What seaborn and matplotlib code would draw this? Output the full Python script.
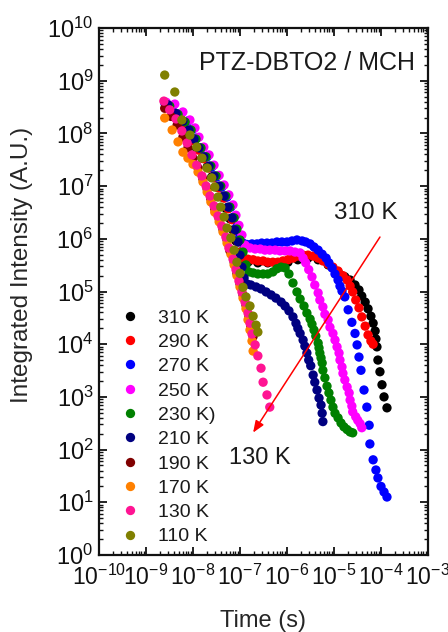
import numpy as np
import pandas as pd
import matplotlib
matplotlib.use("Agg")
import matplotlib.pyplot as plt
import seaborn as sns
from matplotlib.ticker import LogLocator, NullFormatter, LogFormatterMathtext

# ---------------- data ----------------
labels = ['310 K', '290 K', '270 K', '250 K', '230 K)', '210 K', '190 K', '170 K', '130 K', '110 K']
colors = ['#000000', '#ff0000', '#0000ff', '#ff00ff', '#008000', '#000080',
          '#800000', '#ff8000', '#ff1493', '#808000']

t_310 = [2.7e-9, 3.9e-9, 5.6e-9, 7.5e-9, 9.5e-9, 1.2e-8, 1.55e-8, 2.0e-8, 2.5e-8, 3.2e-8, 4.1e-8,
         5.0e-8, 6.1e-8, 7.1e-8, 8.2e-8, 1.0e-7, 1.22e-7, 1.48e-7, 2.4e-7, 3.9e-7, 6.4e-7, 1.05e-6,
         1.7e-6, 2.8e-6, 4.6e-6, 7.5e-6, 1.22e-5, 1.7e-5, 2.2e-5, 2.8e-5, 3.4e-5, 3.9e-5, 4.6e-5,
         5.3e-5, 6.1e-5, 6.8e-5, 7.5e-5, 7.8e-5, 8.2e-5, 8.6e-5, 9.5e-5, 1.05e-4, 1.16e-4, 1.34e-4]
I_310 = [3.3e8, 2.3e8, 1.65e8, 1.11e8, 7.5e7, 5.1e7, 3.4e7, 2.3e7, 1.49e7, 9.6e6, 6.2e6,
         3.8e6, 2.4e6, 1.47e6, 9.1e5, 5.6e5, 4.0e5, 3.6e5, 3.5e5, 3.5e5, 3.5e5, 3.6e5,
         4.0e5, 4.3e5, 4.0e5, 3.2e5, 2.35e5, 1.9e5, 1.65e5, 1.33e5, 1.07e5, 8.2e4, 6.3e4,
         4.7e4, 3.4e4, 2.5e4, 1.78e4, 1.26e4, 8.9e3, 5.0e3, 3.0e3, 1.7e3, 1.0e3, 6.2e2]

t_290 = [2.9e-9, 4.35e-9, 6.1e-9, 8.2e-9, 1.05e-8, 1.34e-8, 1.7e-8, 2.2e-8, 2.8e-8, 3.6e-8, 4.6e-8,
         5.6e-8, 6.8e-8, 7.8e-8, 9.1e-8, 1.05e-7, 1.22e-7, 1.48e-7, 1.9e-7, 2.4e-7, 3.1e-7, 3.9e-7,
         5.0e-7, 6.4e-7, 8.2e-7, 1.05e-6, 1.34e-6, 1.7e-6, 2.2e-6, 2.8e-6, 3.6e-6, 4.6e-6, 5.8e-6,
         7.5e-6, 9.5e-6, 1.22e-5, 1.55e-5, 1.9e-5, 2.2e-5, 2.5e-5, 2.9e-5, 3.4e-5, 3.9e-5, 4.6e-5,
         5.3e-5, 6.1e-5, 6.8e-5]
I_290 = [3.2e8, 2.2e8, 1.57e8, 1.06e8, 7.2e7, 4.8e7, 3.3e7, 2.2e7, 1.43e7, 9.2e6, 5.9e6,
         3.7e6, 2.3e6, 1.41e6, 8.7e5, 5.6e5, 4.3e5, 4.1e5, 4.0e5, 3.8e5, 3.8e5, 3.6e5,
         3.6e5, 3.6e5, 3.8e5, 4.0e5, 4.3e5, 4.7e5, 4.9e5, 4.9e5, 4.7e5, 4.3e5, 3.8e5,
         3.3e5, 2.9e5, 2.45e5, 2.0e5, 1.65e5, 1.27e5, 9.8e4, 6.9e4, 4.9e4, 3.3e4, 2.2e4,
         1.5e4, 1.15e4, 1.0e4]

t_270 = [2.5e-9, 3.75e-9, 5.6e-9, 7.8e-9, 1.0e-8, 1.2e-8, 1.55e-8, 2.0e-8, 2.5e-8, 3.2e-8, 4.1e-8,
         5.3e-8, 6.4e-8, 7.5e-8, 8.6e-8, 1.0e-7, 1.16e-7, 1.41e-7, 1.8e-7, 2.3e-7, 2.9e-7, 3.75e-7,
         4.8e-7, 6.1e-7, 7.8e-7, 1.0e-6, 1.28e-6, 1.63e-6, 2.1e-6, 2.5e-6, 3.1e-6, 3.75e-6, 4.6e-6,
         5.6e-6, 6.8e-6, 7.8e-6, 9.1e-6, 1.05e-5, 1.22e-5, 1.34e-5, 1.48e-5, 1.7e-5, 2.0e-5, 2.4e-5,
         2.8e-5, 3.1e-5, 3.4e-5, 3.75e-5, 4.35e-5, 5.0e-5, 5.6e-5, 5.8e-5, 6.8e-5, 7.8e-5, 8.6e-5,
         1.0e-4, 1.16e-4, 1.34e-4]
I_270 = [3.8e8, 3.4e8, 2.4e8, 1.72e8, 1.21e8, 8.2e7, 5.3e7, 3.6e7, 2.3e7, 1.49e7, 9.6e6,
         6.2e6, 4.0e6, 2.6e6, 1.67e6, 1.13e6, 8.3e5, 7.8e5, 8.0e5, 8.0e5, 8.3e5, 8.3e5,
         8.3e5, 8.7e5, 8.7e5, 8.7e5, 9.1e5, 9.5e5, 9.1e5, 8.7e5, 8.0e5, 7.0e5, 6.1e5,
         5.1e5, 4.3e5, 3.5e5, 2.8e5, 2.15e5, 1.65e5, 1.27e5, 1.02e5, 7.9e4, 4.5e4, 2.6e4,
         1.6e4, 9.7e3, 5.7e3, 3.2e3, 1.35e3, 6.4e2, 2.9e2, 1.28e2, 64, 41, 29,
         20, 15.7, 12.6]

t_250 = [2.7e-9, 4.1e-9, 6.1e-9, 8.6e-9, 1.1e-8, 1.34e-8, 1.7e-8, 2.2e-8, 2.8e-8, 3.6e-8, 4.6e-8,
         5.8e-8, 7.1e-8, 8.2e-8, 9.5e-8, 1.1e-7, 1.28e-7, 1.63e-7, 2.1e-7, 2.7e-7, 3.4e-7, 4.3e-7,
         5.6e-7, 7.1e-7, 9.1e-7, 1.16e-6, 1.48e-6, 1.9e-6, 2.2e-6, 2.5e-6, 2.9e-6, 3.4e-6, 3.9e-6,
         4.6e-6, 5.0e-6, 5.8e-6, 6.4e-6, 7.5e-6, 8.2e-6, 9.5e-6, 1.05e-5, 1.16e-5, 1.28e-5, 1.34e-5,
         1.48e-5, 1.55e-5, 1.7e-5, 1.9e-5, 2.1e-5, 2.2e-5, 2.4e-5, 2.5e-5, 2.9e-5, 3.2e-5, 3.6e-5,
         3.9e-5]
I_250 = [3.9e8, 3.6e8, 2.55e8, 1.8e8, 1.27e8, 8.5e7, 5.5e7, 3.9e7, 2.5e7, 1.6e7, 1.05e7,
         6.8e6, 4.4e6, 2.8e6, 1.8e6, 1.18e6, 7.6e5, 6.7e5, 6.4e5, 6.4e5, 6.1e5, 6.1e5,
         6.1e5, 5.9e5, 5.9e5, 5.9e5, 5.6e5, 5.4e5, 4.3e5, 3.5e5, 2.6e5, 1.9e5, 1.33e5,
         9.4e4, 6.9e4, 5.1e4, 3.7e4, 2.9e4, 2.1e4, 1.6e4, 1.2e4, 8.9e3, 6.8e3, 5.0e3,
         3.7e3, 2.8e3, 2.1e3, 1.54e3, 1.19e3, 8.7e2, 6.7e2, 5.2e2, 4.2e2, 3.6e2, 3.1e2,
         2.6e2]

t_230 = [3.2e-9, 4.8e-9, 6.8e-9, 9.1e-9, 1.16e-8, 1.48e-8, 1.9e-8, 2.4e-8, 3.1e-8, 3.9e-8, 5.0e-8,
         6.1e-8, 7.5e-8, 8.6e-8, 1.0e-7, 1.16e-7, 1.34e-7, 1.55e-7, 1.9e-7, 2.4e-7, 3.1e-7, 3.9e-7,
         5.0e-7, 6.1e-7, 7.5e-7, 9.1e-7, 1.1e-6, 1.34e-6, 1.63e-6, 1.9e-6, 2.3e-6, 2.65e-6, 3.1e-6,
         3.4e-6, 3.75e-6, 4.1e-6, 4.6e-6, 4.8e-6, 5.0e-6, 5.3e-6, 5.6e-6, 5.8e-6, 6.4e-6, 7.1e-6,
         7.8e-6, 8.6e-6, 9.5e-6, 1.05e-5, 1.22e-5, 1.41e-5, 1.63e-5, 1.9e-5, 2.2e-5, 2.5e-5]
I_230 = [3.3e8, 2.3e8, 1.65e8, 1.16e8, 7.8e7, 5.3e7, 3.6e7, 2.4e7, 1.56e7, 1.0e7, 6.5e6,
         4.0e6, 2.5e6, 1.53e6, 9.5e5, 5.6e5, 3.2e5, 2.35e5, 2.25e5, 2.15e5, 2.15e5, 2.15e5,
         2.35e5, 2.7e5, 2.9e5, 2.8e5, 2.15e5, 1.45e5, 9.8e4, 7.2e4, 5.3e4, 3.9e4, 3.0e4,
         2.4e4, 1.86e4, 1.43e4, 1.05e4, 8.5e3, 6.8e3, 5.5e3, 4.4e3, 3.2e3, 2.3e3, 1.6e3,
         1.19e3, 8.7e2, 6.4e2, 4.9e2, 4.0e2, 3.2e2, 2.7e2, 2.4e2, 2.16e2, 2.08e2]

t_210 = [2.9e-9, 4.35e-9, 6.1e-9, 8.2e-9, 1.05e-8, 1.34e-8, 1.7e-8, 2.2e-8, 2.8e-8, 3.6e-8, 4.6e-8,
         5.6e-8, 6.8e-8, 7.8e-8, 9.1e-8, 1.0e-7, 1.1e-7, 1.22e-7, 1.41e-7, 1.7e-7, 2.2e-7, 2.8e-7,
         3.6e-7, 4.6e-7, 5.8e-7, 7.5e-7, 9.1e-7, 1.1e-6, 1.34e-6, 1.55e-6, 1.7e-6, 1.9e-6, 2.2e-6,
         2.4e-6, 2.65e-6, 2.9e-6, 3.2e-6, 3.6e-6, 3.9e-6, 4.35e-6, 4.8e-6, 5.3e-6, 5.6e-6, 5.8e-6]
I_210 = [3.5e8, 2.4e8, 1.72e8, 1.16e8, 7.8e7, 5.3e7, 3.6e7, 2.4e7, 1.56e7, 1.0e7, 6.5e6,
         4.0e6, 2.5e6, 1.47e6, 8.7e5, 4.9e5, 2.9e5, 1.8e5, 1.39e5, 1.33e5, 1.22e5, 1.12e5,
         9.8e4, 8.6e4, 7.5e4, 6.3e4, 5.3e4, 4.3e4, 3.3e4, 2.5e4, 2.0e4, 1.6e4, 1.2e4,
         9.2e3, 6.8e3, 5.0e3, 3.9e3, 2.6e3, 1.9e3, 1.35e3, 9.5e2, 7.0e2, 4.9e2, 3.4e2]

t_190 = [2.5e-9, 3.4e-9, 4.6e-9, 6.1e-9, 7.8e-9, 1.0e-8, 1.28e-8, 1.63e-8, 2.0e-8, 2.4e-8, 2.9e-8,
         3.6e-8, 4.35e-8, 5.3e-8, 6.1e-8, 7.5e-8, 8.6e-8, 1.0e-7, 1.16e-7, 1.34e-7, 1.55e-7, 1.7e-7,
         1.9e-7]
I_190 = [3.0e8, 2.1e8, 1.44e8, 8.5e7, 5.3e7, 3.4e7, 2.2e7, 1.36e7, 8.8e6, 5.7e6, 3.7e6,
         2.4e6, 1.5e6, 9.5e5, 5.9e5, 3.6e5, 2.2e5, 1.39e5, 8.6e4, 5.5e4, 3.4e4, 2.2e4,
         1.4e4]

t_170 = [2.5e-9, 3.6e-9, 4.8e-9, 6.1e-9, 7.8e-9, 1.0e-8, 1.28e-8, 1.63e-8, 2.0e-8, 2.4e-8, 2.9e-8,
         3.6e-8, 4.35e-8, 5.3e-8, 6.4e-8, 7.5e-8, 8.6e-8, 1.0e-7, 1.16e-7, 1.34e-7, 1.48e-7, 1.63e-7,
         1.8e-7, 1.9e-7]
I_170 = [1.96e8, 1.16e8, 6.9e7, 4.4e7, 3.4e7, 2.6e7, 1.85e7, 1.2e7, 7.7e6, 5.0e6, 3.2e6,
         2.1e6, 1.35e6, 8.3e5, 5.1e5, 3.2e5, 2.0e5, 1.22e5, 7.5e4, 4.7e4, 2.9e4, 1.86e4,
         1.15e4, 7.4e3]

t_130 = [2.4e-9, 3.2e-9, 4.35e-9, 5.8e-9, 7.5e-9, 9.5e-9, 1.2e-8, 1.55e-8, 1.9e-8, 2.3e-8, 2.8e-8,
         3.4e-8, 4.1e-8, 5.0e-8, 5.8e-8, 7.1e-8, 8.2e-8, 9.5e-8, 1.1e-7, 1.28e-7, 1.48e-7, 1.63e-7,
         1.8e-7, 2.1e-7, 2.4e-7, 2.8e-7, 3.1e-7, 3.75e-7, 4.3e-7]
I_130 = [4.1e8, 2.8e8, 1.88e8, 1.11e8, 6.6e7, 3.9e7, 2.5e7, 1.56e7, 1.0e7, 6.5e6, 4.2e6,
         2.7e6, 1.75e6, 1.08e6, 6.7e5, 4.1e5, 2.6e5, 1.58e5, 9.8e4, 6.3e4, 3.9e4, 2.5e4,
         1.56e4, 9.7e3, 6.0e3, 3.5e3, 1.9e3, 1.09e3, 6.4e2]

t_110 = [2.5e-9, 4.1e-9, 5.8e-9, 8.6e-9, 1.2e-8, 1.55e-8, 2.0e-8, 2.5e-8, 2.9e-8, 3.4e-8, 3.9e-8,
         4.6e-8, 5.3e-8, 6.4e-8, 7.5e-8, 8.6e-8, 1.0e-7, 1.16e-7, 1.34e-7, 1.63e-7, 1.9e-7, 2.2e-7,
         2.4e-7]
I_110 = [1.28e9, 6.1e8, 1.8e8, 9.3e7, 5.5e7, 3.4e7, 2.2e7, 1.43e7, 9.6e6, 6.2e6, 4.0e6,
         2.6e6, 1.6e6, 1.04e6, 6.1e5, 3.6e5, 2.2e5, 1.2e5, 7.9e4, 5.3e4, 3.4e4, 2.3e4,
         1.7e4]

series_t = [t_310, t_290, t_270, t_250, t_230, t_210, t_190, t_170, t_130, t_110]
series_I = [I_310, I_290, I_270, I_250, I_230, I_210, I_190, I_170, I_130, I_110]

frames = [pd.DataFrame({'Time': t, 'Intensity': I, 'Temperature': lab})
          for lab, t, I in zip(labels, series_t, series_I)]
df = pd.concat(frames, ignore_index=True)

# ---------------- style ----------------
sns.set_style('ticks')
plt.rcParams['font.family'] = ['Liberation Sans', 'DejaVu Sans']
plt.rcParams['mathtext.default'] = 'regular'
plt.rcParams['mathtext.fontset'] = 'custom'
plt.rcParams['mathtext.rm'] = 'Liberation Sans'
plt.rcParams['mathtext.it'] = 'Liberation Sans'
plt.rcParams['text.color'] = '#1a1a1a'

fig = plt.figure(figsize=(4.48, 6.32), dpi=100)
ax = fig.add_axes([99 / 448, 1 - 555 / 632, 329 / 448, 527 / 632])

sns.scatterplot(data=df, x='Time', y='Intensity', hue='Temperature', hue_order=labels,
                palette=colors, s=45, linewidth=0, alpha=1, ax=ax, legend=True, zorder=2)

ax.set_xscale('log')
ax.set_yscale('log')
ax.set_xlim(1e-10, 1e-3)
ax.set_ylim(1e0, 1e10)

for axis in (ax.xaxis, ax.yaxis):
    axis.set_major_locator(LogLocator(base=10, numticks=30))
    axis.set_minor_locator(LogLocator(base=10, subs=np.arange(2, 10), numticks=30))
    axis.set_minor_formatter(NullFormatter())
    axis.set_major_formatter(LogFormatterMathtext())

ax.tick_params(which='both', direction='in', top=True, right=True, colors='#111111')
ax.tick_params(which='major', length=6, width=1.3, labelsize=17)
ax.tick_params(which='minor', length=3, width=1.0)
ax.tick_params(axis='x', which='major', pad=7, labelsize=16.5)
ax.tick_params(axis='y', which='major', pad=4)
for sp in ax.spines.values():
    sp.set_linewidth(1.6)
    sp.set_color('#111111')
    sp.set_visible(True)

ax.set_xlabel('Time (s)', fontsize=17)
ax.set_ylabel('Integrated Intensity (A.U.)', fontsize=17.5)
ax.xaxis.set_label_coords(0.5, -0.104)
ax.xaxis.label.set_verticalalignment('top')
ax.yaxis.set_label_coords(-0.20, 0.55)

# legend
leg = ax.get_legend()
handles = leg.legend_handles
leg.remove()
ax.legend(handles, labels, loc='upper left', bbox_to_anchor=(120 / 448, 1 - 309 / 632),
          bbox_transform=fig.transFigure, frameon=False, fontsize=14, labelspacing=0.345,
          handletextpad=0.96, handlelength=1.0, borderpad=0, borderaxespad=0)

# annotations
ax.annotate('', xy=(1.9e-7, 2.1e2), xytext=(9.5e-5, 1.08e6),
            arrowprops=dict(arrowstyle='-|>,head_length=0.5,head_width=0.2', color='#ff0000',
                            lw=1.1, shrinkA=0, shrinkB=0, mutation_scale=14), zorder=4)
ax.text(4.8e-5, 3.1e6, '310 K', ha='center', va='center', fontsize=17.5)
ax.text(2.7e-7, 69, '130 K', ha='center', va='center', fontsize=17)
ax.text(0.96, 0.934, 'PTZ-DBTO2 / MCH', transform=ax.transAxes, ha='right', va='center',
        fontsize=18)

fig.savefig('out.png', dpi=100)
